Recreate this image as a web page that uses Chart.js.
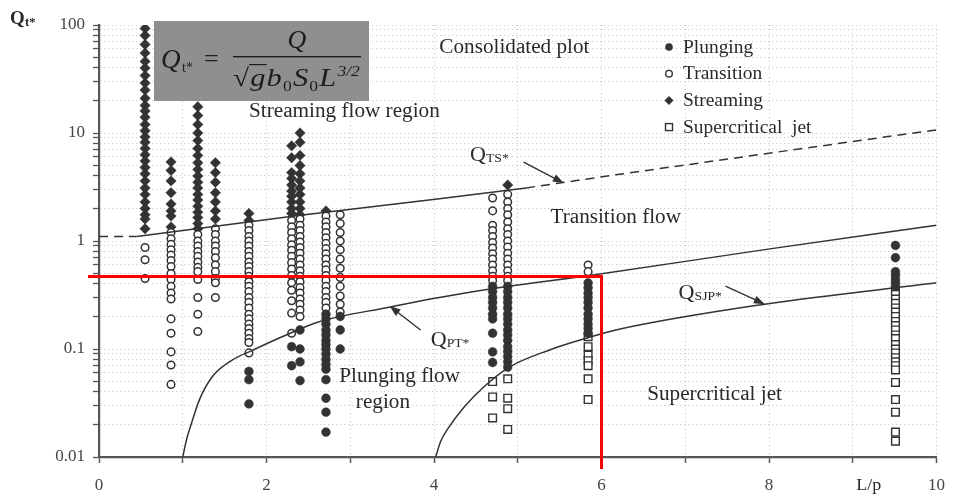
<!DOCTYPE html>
<html>
<head>
<meta charset="utf-8">
<script src="https://cdn.jsdelivr.net/npm/chart.js@4.4.1/dist/chart.umd.min.js"></script>
<style>
  html, body { margin: 0; padding: 0; background: #fff; }
  #wrap { width: 957px; height: 502px; position: relative; }
</style>
</head>
<body>
<div id="wrap"><canvas id="chart"></canvas></div>
<script>
// L/p of each test column, and the Qt* values for it
const plungingL = [1.79, 2.3, 2.4, 2.71, 2.88, 4.7, 4.88, 5.84, 9.51];
const plungingQ = [
  [0.062, 0.052, 0.031],
  [0.105, 0.07],
  [0.15, 0.1, 0.076, 0.051],
  [0.21, 0.19, 0.17, 0.15, 0.135, 0.12, 0.11, 0.1, 0.09, 0.08, 0.072, 0.065, 0.052, 0.035, 0.026, 0.017],
  [0.2, 0.15, 0.1],
  [0.38, 0.34, 0.3, 0.27, 0.24, 0.21, 0.19, 0.14, 0.094, 0.075],
  [0.38, 0.34, 0.3, 0.27, 0.24, 0.21, 0.19, 0.17, 0.15, 0.135, 0.12, 0.105, 0.095, 0.085, 0.076, 0.068],
  [0.41, 0.37, 0.33, 0.3, 0.27, 0.24, 0.21, 0.19, 0.17, 0.155, 0.14],
  [0.91, 0.7, 0.52, 0.48, 0.44, 0.41, 0.38]
];

const transitionL = [0.55, 0.86, 1.18, 1.39, 1.79, 2.3, 2.4, 2.71, 2.88, 4.7, 4.88, 5.84];
const transitionQ = [
  [0.87, 0.67, 0.45],
  [1.2, 1.05, 0.93, 0.83, 0.74, 0.66, 0.58, 0.5, 0.44, 0.38, 0.33, 0.29, 0.19, 0.14, 0.094, 0.071, 0.047],
  [1.15, 1.0, 0.9, 0.8, 0.72, 0.64, 0.57, 0.52, 0.44, 0.3, 0.21, 0.145],
  [1.3, 1.15, 1.0, 0.9, 0.8, 0.7, 0.6, 0.52, 0.45, 0.41, 0.3],
  [1.4, 1.25, 1.1, 1.0, 0.9, 0.8, 0.72, 0.64, 0.58, 0.52, 0.47, 0.42, 0.38, 0.34, 0.3, 0.27, 0.24, 0.21, 0.19, 0.17, 0.155, 0.14, 0.125, 0.115, 0.092],
  [1.55, 1.35, 1.2, 1.05, 0.92, 0.82, 0.72, 0.63, 0.55, 0.48, 0.41, 0.35, 0.28, 0.215, 0.14],
  [1.6, 1.4, 1.25, 1.1, 0.98, 0.87, 0.77, 0.68, 0.6, 0.53, 0.47, 0.42, 0.37, 0.33, 0.29, 0.26, 0.23, 0.2],
  [1.7, 1.5, 1.35, 1.2, 1.07, 0.95, 0.85, 0.76, 0.68, 0.6, 0.54, 0.48, 0.43, 0.38, 0.34, 0.3, 0.27, 0.24],
  [1.75, 1.45, 1.2, 1.0, 0.83, 0.68, 0.56, 0.46, 0.38, 0.31, 0.26, 0.22],
  [2.5, 1.9, 1.4, 1.25, 1.1, 0.97, 0.86, 0.76, 0.68, 0.6, 0.53, 0.47, 0.43],
  [2.7, 2.3, 2.0, 1.75, 1.5, 1.3, 1.15, 1.0, 0.88, 0.77, 0.68, 0.6, 0.53, 0.47, 0.43],
  [0.6, 0.52]
];

const streamingL = [0.55, 0.86, 1.18, 1.39, 1.79, 2.3, 2.4, 2.71, 4.88];
const streamingQ = [
  [93, 80, 66, 55, 46, 40, 34, 29, 25, 21, 18, 16, 14, 12, 10.5, 9.2, 8.2, 7.2, 6.3, 5.5, 4.8, 4.2, 3.6, 3.1, 2.7, 2.3, 2.0, 1.75, 1.6, 1.3],
  [5.4, 4.5, 3.6, 2.8, 2.2, 1.9, 1.7, 1.35],
  [17.5, 14.5, 12, 10, 8.5, 7.2, 6.2, 5.3, 4.6, 4, 3.5, 3.1, 2.7, 2.4, 2.1, 1.85, 1.65, 1.45, 1.3],
  [5.3, 4.3, 3.5, 2.8, 2.3, 1.9, 1.6],
  [1.8, 1.55],
  [7.6, 5.9, 4.3, 3.8, 3.3, 2.9, 2.6, 2.3, 2.0, 1.8],
  [10, 8.2, 6.2, 5, 4.2, 3.6, 3.1, 2.7, 2.3, 2.0, 1.75],
  [1.9],
  [3.3]
];

const jetL = [4.7, 4.88, 5.84, 9.51];
const jetQ = [
  [0.05, 0.036, 0.023],
  [0.053, 0.035, 0.028, 0.018],
  [0.13, 0.105, 0.088, 0.078, 0.07, 0.053, 0.034],
  [0.35, 0.32, 0.29, 0.265, 0.24, 0.22, 0.2, 0.18, 0.165, 0.15, 0.135, 0.125, 0.11, 0.1, 0.092, 0.083, 0.076, 0.07, 0.064, 0.049, 0.034, 0.026, 0.017, 0.014]
];

// boundary curves, points
const tsL = [0, 0.45, 2.38, 4.04, 5.1, 6.17, 8.0, 10];
const tsQ = [1.1, 1.1, 1.72, 2.45, 3.1, 4.1, 6.5, 10.7];
const ptL = [1.0, 1.05, 1.1, 1.2, 1.35, 1.59, 1.83, 2.18, 2.62, 3.48, 3.96, 4.67, 5.94, 8.03, 10];
const ptQ = [0.01, 0.015, 0.02, 0.034, 0.055, 0.079, 0.097, 0.129, 0.178, 0.245, 0.29, 0.36, 0.49, 0.85, 1.4];
const sjpL = [4.02, 4.08, 4.16, 4.36, 4.6, 4.9, 5.38, 5.82, 6.17, 7.95, 10];
const sjpQ = [0.01, 0.014, 0.018, 0.029, 0.045, 0.068, 0.098, 0.126, 0.15, 0.26, 0.41];

const xTicks = [0, 1, 2, 3, 4, 5, 6, 7, 8, 9, 10];
const yDecades = [0.01, 0.1, 1, 10];

// red reading guide
const redL = 6;
const redQ = 0.47;

const INK = '#333';
const SERIF = '"Liberation Serif", "DejaVu Serif", serif';

function columns(ls, qs) {
  const pts = [];
  ls.forEach((l, i) => qs[i].forEach(q => pts.push({ x: l, y: q })));
  return pts;
}
function curve(ls, qs) {
  return ls.map((l, i) => ({ x: l, y: qs[i] }));
}

function txt(ctx, s, x, y, size, opts = {}) {
  ctx.save();
  ctx.font = (opts.style || '') + ' ' + size + 'px ' + SERIF;
  ctx.fillStyle = opts.color || '#2a2a2a';
  ctx.textBaseline = opts.baseline || 'middle';
  ctx.textAlign = opts.align || 'left';
  ctx.translate(x, y);
  ctx.scale(opts.sx || 1.06, 1);
  ctx.fillText(s, 0, 0);
  ctx.restore();
}

function qLabel(ctx, x, y, sub) {
  txt(ctx, 'Q', x, y, 21, { align: 'left', sx: 1.05 });
  txt(ctx, sub, x + 16, y + 4, 13, { align: 'left', sx: 1.05 });
}

function arrow(ctx, x0, y0, x1, y1) {
  const a = Math.atan2(y1 - y0, x1 - x0);
  ctx.save();
  ctx.strokeStyle = INK;
  ctx.fillStyle = INK;
  ctx.lineWidth = 1.4;
  ctx.beginPath();
  ctx.moveTo(x0, y0);
  ctx.lineTo(x1 - 6 * Math.cos(a), y1 - 6 * Math.sin(a));
  ctx.stroke();
  ctx.beginPath();
  ctx.moveTo(x1, y1);
  ctx.lineTo(x1 - 11 * Math.cos(a) + 4 * Math.sin(a), y1 - 11 * Math.sin(a) - 4 * Math.cos(a));
  ctx.lineTo(x1 - 11 * Math.cos(a) - 4 * Math.sin(a), y1 - 11 * Math.sin(a) + 4 * Math.cos(a));
  ctx.closePath();
  ctx.fill();
  ctx.restore();
}

function formula(ctx) {
  const bx = 154, by = 21, bw = 215, bh = 80;
  ctx.save();
  ctx.fillStyle = '#8f8f8f';
  ctx.fillRect(bx, by, bw, bh);
  ctx.fillStyle = '#1c1c1c';
  ctx.textBaseline = 'alphabetic';
  ctx.textAlign = 'left';
  // left side
  ctx.font = 'italic 27px ' + SERIF;
  ctx.fillText('Q', 161, 68);
  ctx.font = '14px ' + SERIF;
  ctx.fillText('t*', 182, 72);
  ctx.font = '26px ' + SERIF;
  ctx.fillText('=', 204, 67);
  // fraction bar
  const x0 = 233, x1 = 361;
  ctx.fillRect(x0, 56, x1 - x0, 1.4);
  ctx.font = 'italic 26px ' + SERIF;
  ctx.textAlign = 'center';
  ctx.fillText('Q', (x0 + x1) / 2, 48);
  // denominator as a run of pieces, stretched to the bar width
  const runs = [
    ['\u221A', '25px', '', 0], ['g', '26px', 'italic', 0], ['b', '26px', 'italic', 0], ['0', '15px', '', 5],
    ['S', '26px', 'italic', 0], ['0', '15px', '', 5], ['L', '26px', 'italic', 0], ['3/2', '15px', 'italic', -10]
  ];
  ctx.textAlign = 'left';
  let w = 0;
  runs.forEach(r => { ctx.font = r[2] + ' ' + r[1] + ' ' + SERIF; r.push(ctx.measureText(r[0]).width); w += r[4] + 1; });
  const k = (x1 - x0) / w;
  ctx.translate(x0, 0);
  ctx.scale(k, 1);
  let cx = 0;
  runs.forEach((r, i) => {
    ctx.font = r[2] + ' ' + r[1] + ' ' + SERIF;
    ctx.fillText(r[0], cx, 86 + r[3]);
    if (i === 1) ctx.fillRect(cx - 1, 64, r[4] + 2, 1.2);
    cx += r[4] + 1;
  });
  ctx.restore();
}

const overlay = {
  id: 'overlay',
  afterDraw(chart) {
    const { ctx, chartArea: area, scales: { x: xs, y: ys } } = chart;
    const P = (l, q) => [xs.getPixelForValue(l), ys.getPixelForValue(q)];

    // region labels
    let p = P(4.96, 61); txt(ctx, 'Consolidated plot', p[0], p[1], 20, { align: 'center' });
    p = P(2.93, 15.6); txt(ctx, 'Streaming flow region', p[0], p[1], 20, { align: 'center' });
    p = P(6.17, 1.63); txt(ctx, 'Transition flow', p[0], p[1], 20, { align: 'center' });
    p = P(3.59, 0.055); txt(ctx, 'Plunging flow', p[0], p[1], 20, { align: 'center' });
    p = P(3.39, 0.032); txt(ctx, 'region', p[0], p[1], 20, { align: 'center' });
    p = P(7.35, 0.038); txt(ctx, 'Supercritical jet', p[0], p[1], 20, { align: 'center' });

    // curve names with arrows
    p = P(4.43, 6.25); qLabel(ctx, p[0], p[1], 'TS*');
    arrow(ctx, ...P(5.07, 5.38), ...P(5.55, 3.44));
    p = P(3.96, 0.121); qLabel(ctx, p[0], p[1], 'PT*');
    arrow(ctx, ...P(3.84, 0.15), ...P(3.47, 0.25));
    p = P(6.92, 0.33); qLabel(ctx, p[0], p[1], 'SJP*');
    arrow(ctx, ...P(7.48, 0.383), ...P(7.95, 0.26));

    // legend
    const items = [['Plunging', 'dot'], ['Transition', 'ring'], ['Streaming', 'diamond'], ['Supercritical  jet', 'square']];
    items.forEach((it, i) => {
      const lx = 669, ly = 47 + i * 26.7;
      ctx.save();
      ctx.fillStyle = INK; ctx.strokeStyle = INK; ctx.lineWidth = 1.4;
      ctx.beginPath();
      if (it[1] === 'dot') { ctx.arc(lx, ly, 3.8, 0, Math.PI * 2); ctx.fill(); }
      if (it[1] === 'ring') { ctx.arc(lx, ly, 3.3, 0, Math.PI * 2); ctx.stroke(); }
      if (it[1] === 'diamond') { ctx.moveTo(lx, ly - 4.5); ctx.lineTo(lx + 4.5, ly); ctx.lineTo(lx, ly + 4.5); ctx.lineTo(lx - 4.5, ly); ctx.closePath(); ctx.fill(); }
      if (it[1] === 'square') { ctx.strokeRect(lx - 3.5, ly - 3.5, 7, 7); }
      ctx.restore();
      txt(ctx, it[0], 683, ly + 1, 18, { sx: 1.08 });
    });

    // axis titles
    txt(ctx, 'Q', 10, 19, 18, { style: 'bold', sx: 1.05 });
    txt(ctx, 't*', 25, 23, 12, { style: 'bold', sx: 1.05 });
    txt(ctx, 'L/p', xs.getPixelForValue(9.19), area.bottom + 29, 17, { align: 'center' });

    // red guide lines
    const gx = xs.getPixelForValue(redL), gy = ys.getPixelForValue(redQ);
    ctx.save();
    ctx.strokeStyle = '#ff0000';
    ctx.lineWidth = 3;
    ctx.lineJoin = 'miter';
    ctx.beginPath();
    ctx.moveTo(area.left - 11, gy);
    ctx.lineTo(gx, gy);
    ctx.lineTo(gx, area.bottom + 12);
    ctx.stroke();
    ctx.restore();

    formula(ctx);
  }
};

const markerBase = { showLine: false, pointBorderColor: INK, pointHoverRadius: 4 };

new Chart(document.getElementById('chart'), {
  type: 'scatter',
  data: {
    datasets: [
      { label: 'Q_TS*', data: curve(tsL, tsQ), showLine: true, pointRadius: 0, borderColor: INK, borderWidth: 1.5,
        segment: { borderDash: c => (c.p0.parsed.x >= 5.09 || c.p1.parsed.x <= 0.46) ? [9, 6] : undefined } },
      { label: 'Q_PT*', data: curve(ptL, ptQ), showLine: true, pointRadius: 0, borderColor: INK, borderWidth: 1.5, cubicInterpolationMode: 'monotone' },
      { label: 'Q_SJP*', data: curve(sjpL, sjpQ), showLine: true, pointRadius: 0, borderColor: INK, borderWidth: 1.5, cubicInterpolationMode: 'monotone' },
      { ...markerBase, label: 'Plunging', data: columns(plungingL, plungingQ), pointStyle: 'circle', pointRadius: 4.4, pointBackgroundColor: INK, pointBorderWidth: 0.5 },
      { ...markerBase, label: 'Transition', data: columns(transitionL, transitionQ), pointStyle: 'circle', pointRadius: 3.8, pointBackgroundColor: '#fff', pointBorderWidth: 1.5 },
      { ...markerBase, label: 'Streaming', data: columns(streamingL, streamingQ), pointStyle: 'rectRot', pointRadius: 5.2, pointBackgroundColor: INK, pointBorderWidth: 0.5 },
      { ...markerBase, label: 'Supercritical jet', data: columns(jetL, jetQ), pointStyle: 'rect', pointRadius: 5.4, pointBackgroundColor: '#fff', pointBorderWidth: 1.4 }
    ]
  },
  options: {
    responsive: true,
    maintainAspectRatio: false,
    animation: false,
    devicePixelRatio: 1,
    layout: { padding: { top: 25, right: 12, bottom: 0, left: 0 } },
    plugins: { legend: { display: false }, tooltip: { enabled: false } },
    scales: {
      x: {
        type: 'linear', min: 0, max: 10,
        afterBuildTicks: s => { s.ticks = xTicks.map(v => ({ value: v })); },
        afterFit: s => { s.height = 45; },
        ticks: {
          autoSkip: false, maxRotation: 0, padding: 12, color: '#444',
          font: { family: SERIF, size: 17 },
          callback: v => (v % 2 === 0 ? String(v) : '')
        },
        grid: { color: '#c2c2c2', tickColor: '#555', tickLength: 6, tickWidth: 1.5 },
        border: { color: '#555', width: 2.2, dash: [1, 3] }
      },
      y: {
        type: 'logarithmic', min: 0.01, max: 100,
        afterBuildTicks: s => {
          const t = [];
          yDecades.forEach(d => { for (let m = 1; m < 10; m++) t.push({ value: Number((m * d).toPrecision(3)), major: m === 1 }); });
          t.push({ value: 100, major: true });
          s.ticks = t;
        },
        afterFit: s => { s.width = 99; },
        ticks: {
          autoSkip: false, padding: 8, color: '#444',
          font: { family: SERIF, size: 17 },
          callback: v => (Number.isInteger(Math.round(Math.log10(v) * 1000) / 1000) ? String(v) : '')
        },
        grid: { color: '#c2c2c2', tickColor: '#555', tickLength: 6, tickWidth: 1.3 },
        border: { color: '#555', width: 2.2, dash: [1, 3] }
      }
    }
  },
  plugins: [overlay]
});
</script>
</body>
</html>
